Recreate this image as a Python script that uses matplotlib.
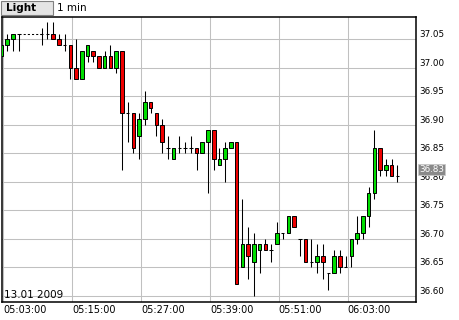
"""
1-minute candle chart, 13.01 2009, 05:03 - 06:12.

Draws the candles, the gap marker, the price/time grid and the small
"Light | 1 min" header, then saves out.png (460x320).
"""

import matplotlib
matplotlib.use("Agg")
import matplotlib.pyplot as plt
import matplotlib.transforms as mtransforms
from matplotlib.patches import Rectangle


# ---------------------------------------------------------------------------
# Data — minutes after 05:03:00, OHLC per minute (no trades 05:07-05:09)
# ---------------------------------------------------------------------------
MINUTES = [0, 1, 2, 3] + list(range(7, 70))

OPEN = [
    37.02, 37.04, 37.05, 37.06,
    37.06, 37.06, 37.06, 37.05, 37.04, 37.04, 37.00, 36.98, 37.02, 37.03,
    37.02, 37.00, 37.02, 37.00, 37.03, 36.92, 36.92, 36.88, 36.91, 36.94,
    36.92, 36.90, 36.86, 36.84, 36.86, 36.86, 36.86, 36.86, 36.85, 36.87,
    36.89, 36.83, 36.84, 36.86, 36.87, 36.65, 36.69, 36.66, 36.68, 36.69,
    36.68, 36.69, 36.71, 36.71, 36.74, 36.70, 36.70, 36.66, 36.66, 36.67,
    36.64, 36.64, 36.67, 36.65, 36.67, 36.70, 36.71, 36.74, 36.78, 36.86,
    36.82, 36.83, 36.81,
]
HIGH = [
    37.04, 37.06, 37.06, 37.06,
    37.07, 37.08, 37.08, 37.06, 37.06, 37.04, 37.05, 37.03, 37.04, 37.03,
    37.02, 37.03, 37.04, 37.03, 37.03, 36.94, 36.92, 36.92, 36.96, 36.94,
    36.92, 36.91, 36.88, 36.86, 36.88, 36.87, 36.88, 36.86, 36.87, 36.89,
    36.89, 36.86, 36.87, 36.87, 36.87, 36.77, 36.72, 36.71, 36.69, 36.70,
    36.69, 36.73, 36.71, 36.74, 36.74, 36.70, 36.70, 36.70, 36.69, 36.69,
    36.64, 36.68, 36.68, 36.67, 36.70, 36.74, 36.74, 36.79, 36.89, 36.86,
    36.84, 36.84, 36.83,
]
LOW = [
    37.02, 37.03, 37.03, 37.03,
    37.04, 37.05, 37.05, 37.04, 37.03, 36.98, 36.98, 36.98, 37.01, 37.01,
    37.00, 37.00, 37.00, 36.99, 36.82, 36.87, 36.85, 36.84, 36.90, 36.92,
    36.88, 36.85, 36.84, 36.84, 36.85, 36.85, 36.85, 36.82, 36.85, 36.78,
    36.82, 36.83, 36.80, 36.86, 36.62, 36.65, 36.63, 36.60, 36.64, 36.68,
    36.66, 36.69, 36.70, 36.71, 36.72, 36.67, 36.66, 36.65, 36.64, 36.63,
    36.61, 36.64, 36.64, 36.65, 36.65, 36.69, 36.70, 36.72, 36.77, 36.81,
    36.81, 36.81, 36.80,
]
CLOSE = [
    37.04, 37.05, 37.06, 37.06,
    37.06, 37.06, 37.05, 37.04, 37.04, 37.00, 36.98, 37.03, 37.04, 37.02,
    37.00, 37.02, 37.00, 37.03, 36.92, 36.92, 36.86, 36.91, 36.94, 36.93,
    36.90, 36.87, 36.86, 36.86, 36.86, 36.86, 36.86, 36.85, 36.87, 36.89,
    36.84, 36.84, 36.86, 36.87, 36.62, 36.69, 36.67, 36.69, 36.69, 36.68,
    36.68, 36.71, 36.71, 36.74, 36.72, 36.70, 36.66, 36.66, 36.67, 36.66,
    36.64, 36.67, 36.65, 36.65, 36.70, 36.71, 36.74, 36.78, 36.86, 36.82,
    36.83, 36.81, 36.81,
]

# no-trade stretch, drawn dashed at the last close
GAP_FROM, GAP_TO = 3, 7

TICK_MINUTES = [0, 12, 24, 36, 48, 60]
TICK_LABELS = ["05:03:00", "05:15:00", "05:27:00", "05:39:00", "05:51:00", "06:03:00"]
PRICE_TICKS = [36.60, 36.65, 36.70, 36.75, 36.80, 36.85, 36.90, 36.95, 37.00, 37.05]

LAST_PRICE = 36.83
DATE_LABEL = "13.01 2009"
MODE_LABEL = "Light"
PERIOD_LABEL = "1 min"


# ---------------------------------------------------------------------------
# Style
# ---------------------------------------------------------------------------
W, H = 460, 320
UP_COLOR = "#00dd00"
DOWN_COLOR = "#ee0000"
GRID_COLOR = "#c0c0c0"
BODY_WIDTH = 0.62
SHIFT = -0.35          # candles sit a touch left of their grid line
XLIM = (-0.2, 71.9)
YLIM = (36.589, 37.089)


def draw_candles(ax):
    xs = [m + SHIFT for m in MINUTES]
    ax.vlines(xs, LOW, HIGH, color="black", linewidth=0.75, zorder=2)
    for x, o, c in zip(xs, OPEN, CLOSE):
        if abs(c - o) < 1e-9:
            ax.hlines(o, x - BODY_WIDTH / 2, x + BODY_WIDTH / 2,
                      color="black", linewidth=0.75, zorder=3)
            continue
        ax.bar(x, abs(c - o), bottom=min(o, c), width=BODY_WIDTH,
               color=UP_COLOR if c > o else DOWN_COLOR,
               edgecolor="black", linewidth=0.7, zorder=3)
    gap_level = CLOSE[MINUTES.index(GAP_FROM)]
    ax.plot([GAP_FROM + SHIFT, GAP_TO + SHIFT], [gap_level, gap_level],
            color="black", linewidth=0.75, linestyle=(0, (2, 2)), zorder=2)


def style_axes(ax):
    ax.set_xlim(*XLIM)
    ax.set_ylim(*YLIM)
    ax.set_xticks(TICK_MINUTES)
    ax.set_xticklabels(TICK_LABELS, ha="left")
    ax.set_yticks(PRICE_TICKS)
    ax.set_yticklabels([f"{p:.2f}" for p in PRICE_TICKS], va="bottom")
    ax.yaxis.tick_right()
    ax.tick_params(axis="x", length=0, pad=2.5, labelsize=7)
    ax.tick_params(axis="y", length=0, pad=2.5, labelsize=6.3)
    ax.grid(True, color=GRID_COLOR, linewidth=0.75)
    ax.set_axisbelow(True)
    for sp in ax.spines.values():
        sp.set_color("black")
        sp.set_linewidth(1.1)


def draw_labels(fig, ax):
    ax.text(0.003, 0.006, DATE_LABEL, transform=ax.transAxes,
            fontsize=7.5, ha="left", va="bottom")
    trans = mtransforms.blended_transform_factory(ax.transAxes, ax.transData)
    ax.text(1.008, LAST_PRICE, f"{LAST_PRICE:.2f}", transform=trans,
            color="white", fontsize=6.3, ha="left", va="top", clip_on=False,
            zorder=6,
            bbox=dict(boxstyle="square,pad=0.12", facecolor="#8a8a8a",
                      edgecolor="#c8c8c8", linewidth=0.6))
    # header button
    fig.patches.append(Rectangle((1 / W, 1 - 15 / H), 52 / W, 14 / H,
                                 transform=fig.transFigure,
                                 facecolor="#e4e4e4", edgecolor="#808080",
                                 linewidth=0.8))
    fig.text(6 / W, 1 - 8 / H, MODE_LABEL, fontsize=7.5, fontweight="bold",
             va="center", ha="left")
    fig.text(57 / W, 1 - 8 / H, PERIOD_LABEL, fontsize=7.5,
             va="center", ha="left")


def main():
    fig = plt.figure(figsize=(W / 100, H / 100), dpi=100)
    fig.patch.set_facecolor("white")
    ax = fig.add_axes([2.3 / W, 18 / H, 413.7 / W, 285 / H])
    draw_candles(ax)
    style_axes(ax)
    draw_labels(fig, ax)
    fig.savefig("out.png", dpi=100)
    plt.close(fig)


if __name__ == "__main__":
    main()
